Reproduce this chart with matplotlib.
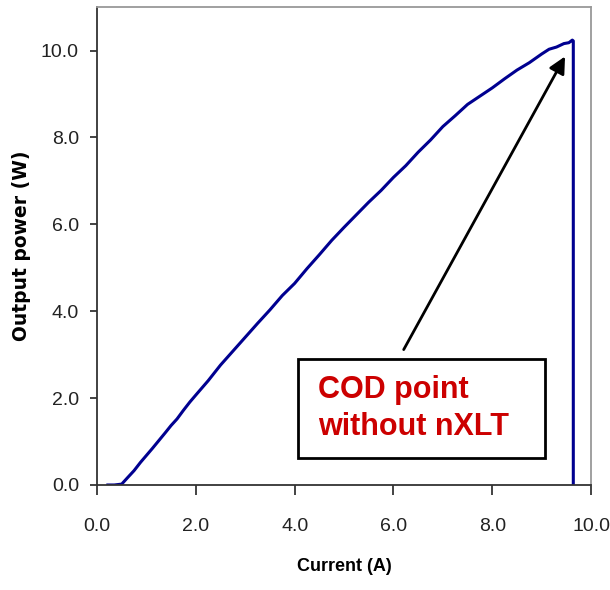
import matplotlib
matplotlib.use("Agg")
import matplotlib.pyplot as plt
from matplotlib.patches import Rectangle

current = [0.22, 0.35, 0.50, 0.62, 0.75, 0.88, 1.00, 1.12, 1.25, 1.38, 1.50, 1.62,
           1.75, 1.88, 2.00, 2.25, 2.50, 2.75, 3.00, 3.25, 3.50, 3.75, 4.00,
           4.25, 4.50, 4.75, 5.00, 5.25, 5.50, 5.75, 6.00, 6.25, 6.50, 6.75,
           7.00, 7.25, 7.50, 7.75, 8.00, 8.25, 8.50, 8.75, 9.00, 9.15, 9.30,
           9.45, 9.55, 9.62, 9.64, 9.64]
power = [0.00, 0.00, 0.02, 0.17, 0.33, 0.52, 0.68, 0.84, 1.02, 1.20, 1.37, 1.52,
         1.72, 1.91, 2.07, 2.40, 2.76, 3.08, 3.40, 3.72, 4.03, 4.36, 4.64,
         4.98, 5.30, 5.63, 5.93, 6.22, 6.51, 6.78, 7.08, 7.35, 7.66, 7.94,
         8.25, 8.50, 8.76, 8.95, 9.14, 9.35, 9.55, 9.72, 9.92, 10.03, 10.08,
         10.16, 10.18, 10.24, 10.22, 0.00]

xticks = [0, 2, 4, 6, 8, 10]
yticks = [0, 2, 4, 6, 8, 10]

plt.rcParams['font.family'] = ['Liberation Sans', 'DejaVu Sans']

fig = plt.figure(figsize=(6.1, 5.9), dpi=100)
ax = fig.add_axes([0.159, 0.178, 0.81, 0.81])

ax.plot(current, power, color='#000090', linewidth=2.2, solid_joinstyle='round')

ax.set_xlim(0, 10)
ax.set_ylim(0, 11)
ax.set_xticks(xticks)
ax.set_yticks(yticks)
ax.set_xticklabels(['%.1f' % v for v in xticks])
ax.set_yticklabels(['%.1f' % v for v in yticks])
ax.tick_params(axis='x', direction='out', length=7, width=1.2, pad=17, labelsize=14, colors='#222222')
ax.tick_params(axis='y', direction='out', length=5, width=1.2, pad=8, labelsize=14, colors='#222222')

for side in ['left', 'bottom']:
    ax.spines[side].set_color('#333333')
    ax.spines[side].set_linewidth(1.3)
for side in ['top', 'right']:
    ax.spines[side].set_color('#999999')
    ax.spines[side].set_linewidth(1.3)

ax.set_xlabel('Current (A)', fontsize=13, fontweight='bold', labelpad=16)
ax.set_ylabel('Output power (W)', fontsize=13.5, fontweight='bold', labelpad=7,
              family=['DejaVu Sans'])

# callout box with arrow
ax.add_patch(Rectangle((0.407, 0.056), 0.50, 0.208, transform=ax.transAxes,
                       facecolor='white', edgecolor='black', linewidth=2, zorder=4))
ax.text(0.447, 0.16, 'COD point\nwithout nXLT', transform=ax.transAxes,
        color='#CC0000', fontsize=22, fontweight='bold',
        va='center', ha='left', linespacing=1.3, zorder=5)
ax.annotate('', xy=(9.5, 9.92), xytext=(6.18, 3.06),
            arrowprops=dict(arrowstyle='-|>', color='black', lw=2, mutation_scale=25))

fig.savefig('out.png', dpi=100)
